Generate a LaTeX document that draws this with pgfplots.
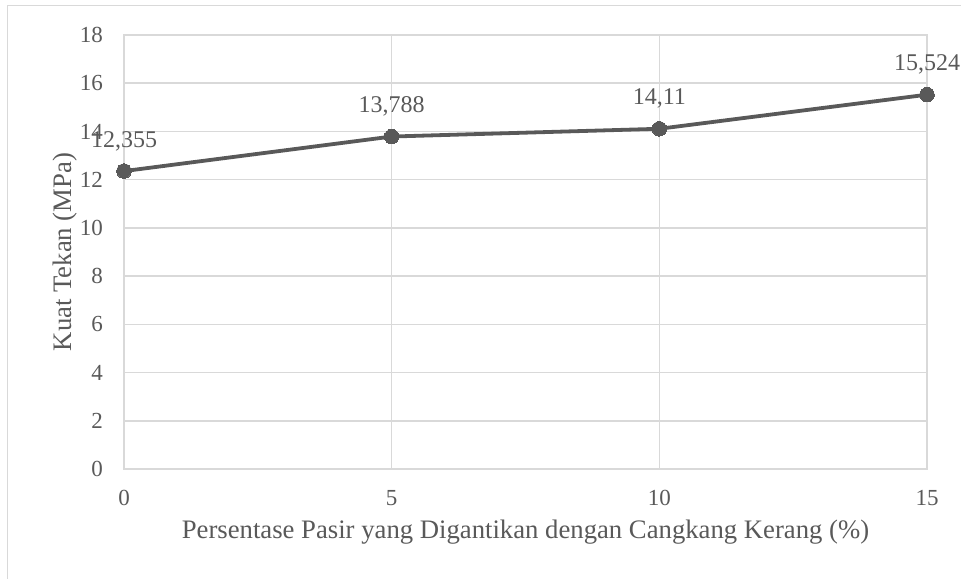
\documentclass[border=0pt]{standalone}
\usepackage{pgfplots}
\pgfplotsset{compat=1.18}
\usepackage{fontspec}
\setmainfont{Liberation Serif}

\definecolor{txtgray}{HTML}{595959}
\definecolor{linegray}{HTML}{595959}
\definecolor{gridgray}{HTML}{D9D9D9}

\begin{document}
\begin{tikzpicture}[x=1bp,y=1bp]
\begin{axis}[
  at={(124bp,110bp)}, anchor=south west,
  scale only axis,
  width=803bp, height=434bp,
  xmin=0, xmax=15, ymin=0, ymax=18,
  xtick={0,5,10,15}, ytick={0,2,...,18},
  grid=major,
  major grid style={draw=gridgray, line width=1.5bp},
  axis line style={draw=gridgray, line width=1.5bp},
  major tick length=0pt,
  /pgf/number format/assume math mode=true,
  /pgf/number format/.cd, use comma, 1000 sep={}, precision=3,
  /pgfplots/.cd,
  tick label style={font=\fontsize{23bp}{26bp}\selectfont, text=txtgray, inner sep=0pt},
  yticklabel style={anchor=east, xshift=-21bp},
  xticklabel style={anchor=north, yshift=-21bp},
  xlabel={Persentase Pasir yang Digantikan dengan Cangkang Kerang (\%)},
  ylabel={Kuat Tekan (MPa)},
  label style={font=\fontsize{26.7bp}{30bp}\selectfont, text=txtgray, inner sep=0pt},
  xlabel style={at={(axis description cs:0.5,-0.1613)}, anchor=base},
  ylabel style={at={(axis description cs:-0.066,0.5)}, anchor=base},
  clip=false,
]
\addplot[
  color=linegray, line width=3.8bp,
  mark=*, mark size=7.3bp, mark options={fill=linegray, draw=linegray, line width=0pt},
  nodes near coords,
  every node near coord/.append style={
    font=\fontsize{24bp}{26bp}\selectfont, text=txtgray,
    anchor=base, inner sep=0pt, yshift=24bp},
] coordinates {
  (0,12.355) (5,13.788) (10,14.11) (15,15.524)
};
\end{axis}
% outer frame of the chart area
\draw[gridgray, line width=1.3bp] (7.5,0) -- (7.5,573.5) -- (961,573.5);
\pgfresetboundingbox
\path (0,0) rectangle (961,579);
\end{tikzpicture}
\end{document}
